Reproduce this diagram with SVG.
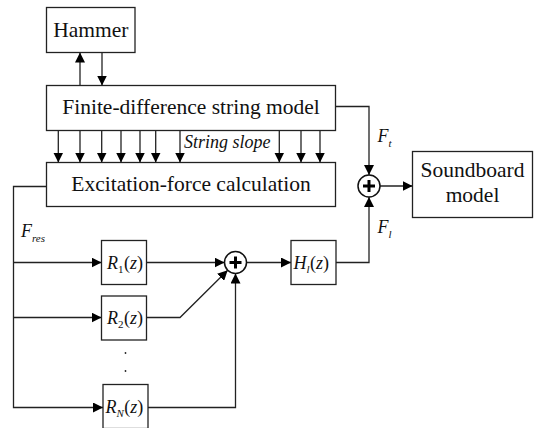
<svg xmlns="http://www.w3.org/2000/svg" width="534" height="428" viewBox="0 0 534 428">
<defs>
<style>
.box{fill:#fff;stroke:#222;stroke-width:1.3}
.ln{fill:none;stroke:#222;stroke-width:1.3}
.arr{marker-end:url(#ah)}
.t{font-family:"Liberation Serif","Times New Roman",serif;font-size:21.5px;fill:#111}
.m{font-family:"Liberation Serif","Times New Roman",serif;font-size:18px;fill:#111}
.i{font-style:italic}
.sub{font-size:11px}
.sum{fill:#fff;stroke:#111;stroke-width:1.5}
.plus{stroke:#000;stroke-width:3;fill:none}
</style>
<marker id="ah" markerUnits="userSpaceOnUse" markerWidth="10" markerHeight="10" refX="10" refY="5" orient="auto">
<path d="M0,0 L10,5 L0,10 z" fill="#000"/>
</marker>
</defs>
<rect width="534" height="428" fill="#fff"/>

<g id="connectors">
<path class="ln arr" d="M80,85.5 V52.5"/>
<path class="ln arr" d="M102,52.5 V85.5"/>
<path class="ln arr" d="M58.3,130.5 V162.5"/>
<path class="ln arr" d="M80,130.5 V162.5"/>
<path class="ln arr" d="M101.7,130.5 V162.5"/>
<path class="ln arr" d="M121,130.5 V162.5"/>
<path class="ln arr" d="M140,130.5 V162.5"/>
<path class="ln arr" d="M155.7,130.5 V162.5"/>
<path class="ln arr" d="M180,130.5 V162.5"/>
<path class="ln arr" d="M279.3,130.5 V162.5"/>
<path class="ln arr" d="M301,130.5 V162.5"/>
<path class="ln arr" d="M320,130.5 V162.5"/>
<path class="ln arr" d="M335.5,106.5 H369 V175"/>
<path class="ln arr" d="M336,262.5 H369 V197"/>
<path class="ln arr" d="M380,186 H412.5"/>
<path class="ln arr" d="M46.5,186.5 H13.5 V407.5 H103"/>
<path class="ln arr" d="M13.5,262.5 H101.5"/>
<path class="ln arr" d="M13.5,317.5 H101.5"/>
<path class="ln arr" d="M146.5,262.5 H224.5"/>
<path class="ln arr" d="M146.5,317.5 H180 L227.7,270.3"/>
<path class="ln arr" d="M147.5,407.5 H235.5 V273.5"/>
<path class="ln arr" d="M246.5,262.5 H291"/>
</g>

<g id="hammer">
<rect class="box" x="46.5" y="7.5" width="88.5" height="45"/>
<text class="t" x="90.75" y="36.5" text-anchor="middle">Hammer</text>
</g>

<g id="string-model">
<rect class="box" x="46.5" y="85.5" width="289" height="45"/>
<text class="t" x="191" y="113.5" text-anchor="middle">Finite-difference string model</text>
</g>

<g id="string-slope-label">
<text class="m i" x="184" y="148">String slope</text>
</g>

<g id="excitation">
<rect class="box" x="46.5" y="162.5" width="289" height="44"/>
<text class="t" x="191" y="190.5" text-anchor="middle">Excitation-force calculation</text>
</g>

<g id="sum1">
<circle class="sum" cx="369" cy="186" r="11"/>
<path class="plus" d="M363,186 H375 M369,180 V192"/>
</g>

<g id="labels-F">
<text class="m i" x="377.5" y="141.7">F<tspan class="sub" dx="0" dy="5">t</tspan></text>
<text class="m i" x="377.5" y="233.3">F<tspan class="sub" dx="0" dy="5">l</tspan></text>
<text class="m i" x="21" y="237">F<tspan class="sub" dx="0" dy="5">res</tspan></text>
</g>

<g id="soundboard">
<rect class="box" x="412.5" y="151.5" width="120" height="66"/>
<text class="t" x="472.5" y="177" text-anchor="middle">Soundboard</text>
<text class="t" x="472.5" y="202" text-anchor="middle">model</text>
</g>

<g id="R1">
<rect class="box" x="101.5" y="240.5" width="45" height="44"/>
<text class="m" x="107" y="268.5"><tspan class="i">R</tspan><tspan class="sub" dy="4">1</tspan><tspan dy="-4" dx="0.5">(</tspan><tspan class="i">z</tspan>)</text>
</g>

<g id="R2">
<rect class="box" x="101.5" y="296" width="45" height="44"/>
<text class="m" x="107" y="324"><tspan class="i">R</tspan><tspan class="sub" dy="4">2</tspan><tspan dy="-4" dx="0.5">(</tspan><tspan class="i">z</tspan>)</text>
</g>

<g id="dots">
<circle cx="125.5" cy="353" r="0.9" fill="#222"/>
<circle cx="125.5" cy="371" r="0.9" fill="#222"/>
</g>

<g id="RN">
<rect class="box" x="103" y="384.5" width="45" height="44"/>
<text class="m" x="105.5" y="412.5"><tspan class="i">R</tspan><tspan class="sub i" dy="4">N</tspan><tspan dy="-4" dx="0.5">(</tspan><tspan class="i">z</tspan>)</text>
</g>

<g id="sum2">
<circle class="sum" cx="235.5" cy="262.5" r="11"/>
<path class="plus" d="M229.5,262.5 H241.5 M235.5,256.5 V268.5"/>
</g>

<g id="Hl">
<rect class="box" x="291" y="240.5" width="45" height="44"/>
<text class="m" x="293.5" y="268.5"><tspan class="i">H</tspan><tspan class="sub i" dy="4">l</tspan><tspan dy="-4" dx="0.5">(</tspan><tspan class="i">z</tspan>)</text>
</g>
</svg>
